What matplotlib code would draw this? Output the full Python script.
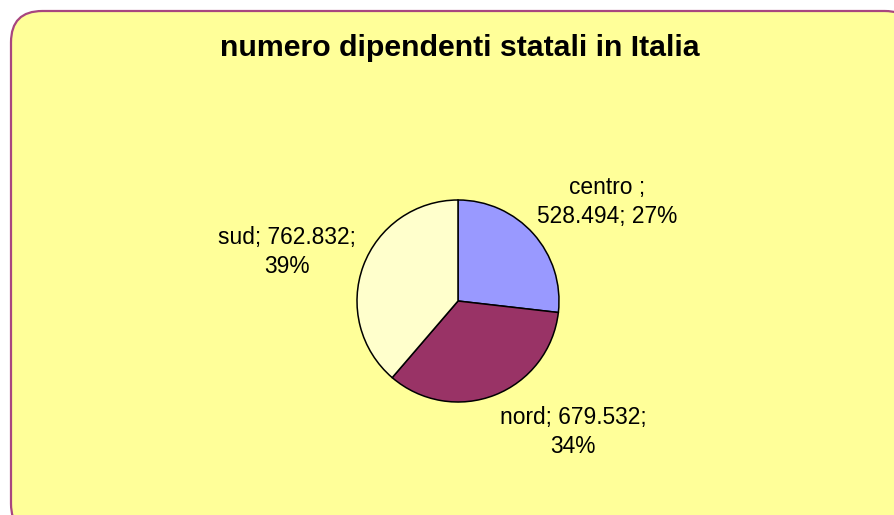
import matplotlib.pyplot as plt
from matplotlib.patches import FancyBboxPatch

# data
categorie = ['centro ', 'nord', 'sud']
valori = [528494, 679532, 762832]
colori = ['#9999FF', '#993366', '#FFFFCC']
titolo = 'numero dipendenti statali in Italia'

plt.rcParams['font.family'] = ['Liberation Sans', 'DejaVu Sans']

W, H = 895, 515
fig = plt.figure(figsize=(W / 100, H / 100), dpi=100)
fig.patch.set_facecolor('white')

# chart area: rounded box, cut off at right and bottom
box = FancyBboxPatch((11 / W, -20 / H), (W + 10) / W, (H - 11 + 20) / H,
                     boxstyle='round,pad=0,rounding_size=0.035',
                     transform=fig.transFigure, facecolor='#FFFF99',
                     edgecolor='#A8467F', linewidth=1.6, mutation_aspect=W / H,
                     zorder=-10)
fig.patches.append(box)

fig.text(460 / W, 1 - 48 / H, titolo, ha='center', va='center',
         fontsize=21.8, fontweight='bold')

# pie: centre (458, 301), radius 101 px
cx, cy, r = 458, 301, 101
ax = fig.add_axes([(cx - r) / W, 1 - (cy + r) / H, 2 * r / W, 2 * r / H])
ax.set_zorder(5)
ax.patch.set_visible(False)
wedges, _ = ax.pie(valori, colors=colori, startangle=90, counterclock=False,
                   wedgeprops=dict(edgecolor='black', linewidth=1.1))
for w in wedges:
    w.set_clip_on(False)
ax.set_xlim(-1, 1)
ax.set_ylim(-1, 1)
ax.set_aspect('equal')
ax.axis('off')

def fmt(v):
    return f'{v:,}'.replace(',', '.')

tot = sum(valori)
perc = [round(v / tot * 100) for v in valori]
testi = [
    f'{categorie[0]};\n{fmt(valori[0])}; {perc[0]}%',
    f'{categorie[1]}; {fmt(valori[1])};\n{perc[1]}%',
    f'{categorie[2]}; {fmt(valori[2])};\n{perc[2]}%',
]
posizioni = [(607, 202), (573, 432), (287, 252)]
for t, (x, y) in zip(testi, posizioni):
    fig.text(x / W, 1 - y / H, t, ha='center', va='center', fontsize=16.4,
             linespacing=1.3, multialignment='center', zorder=10)

fig.savefig('out.png', dpi=100)
